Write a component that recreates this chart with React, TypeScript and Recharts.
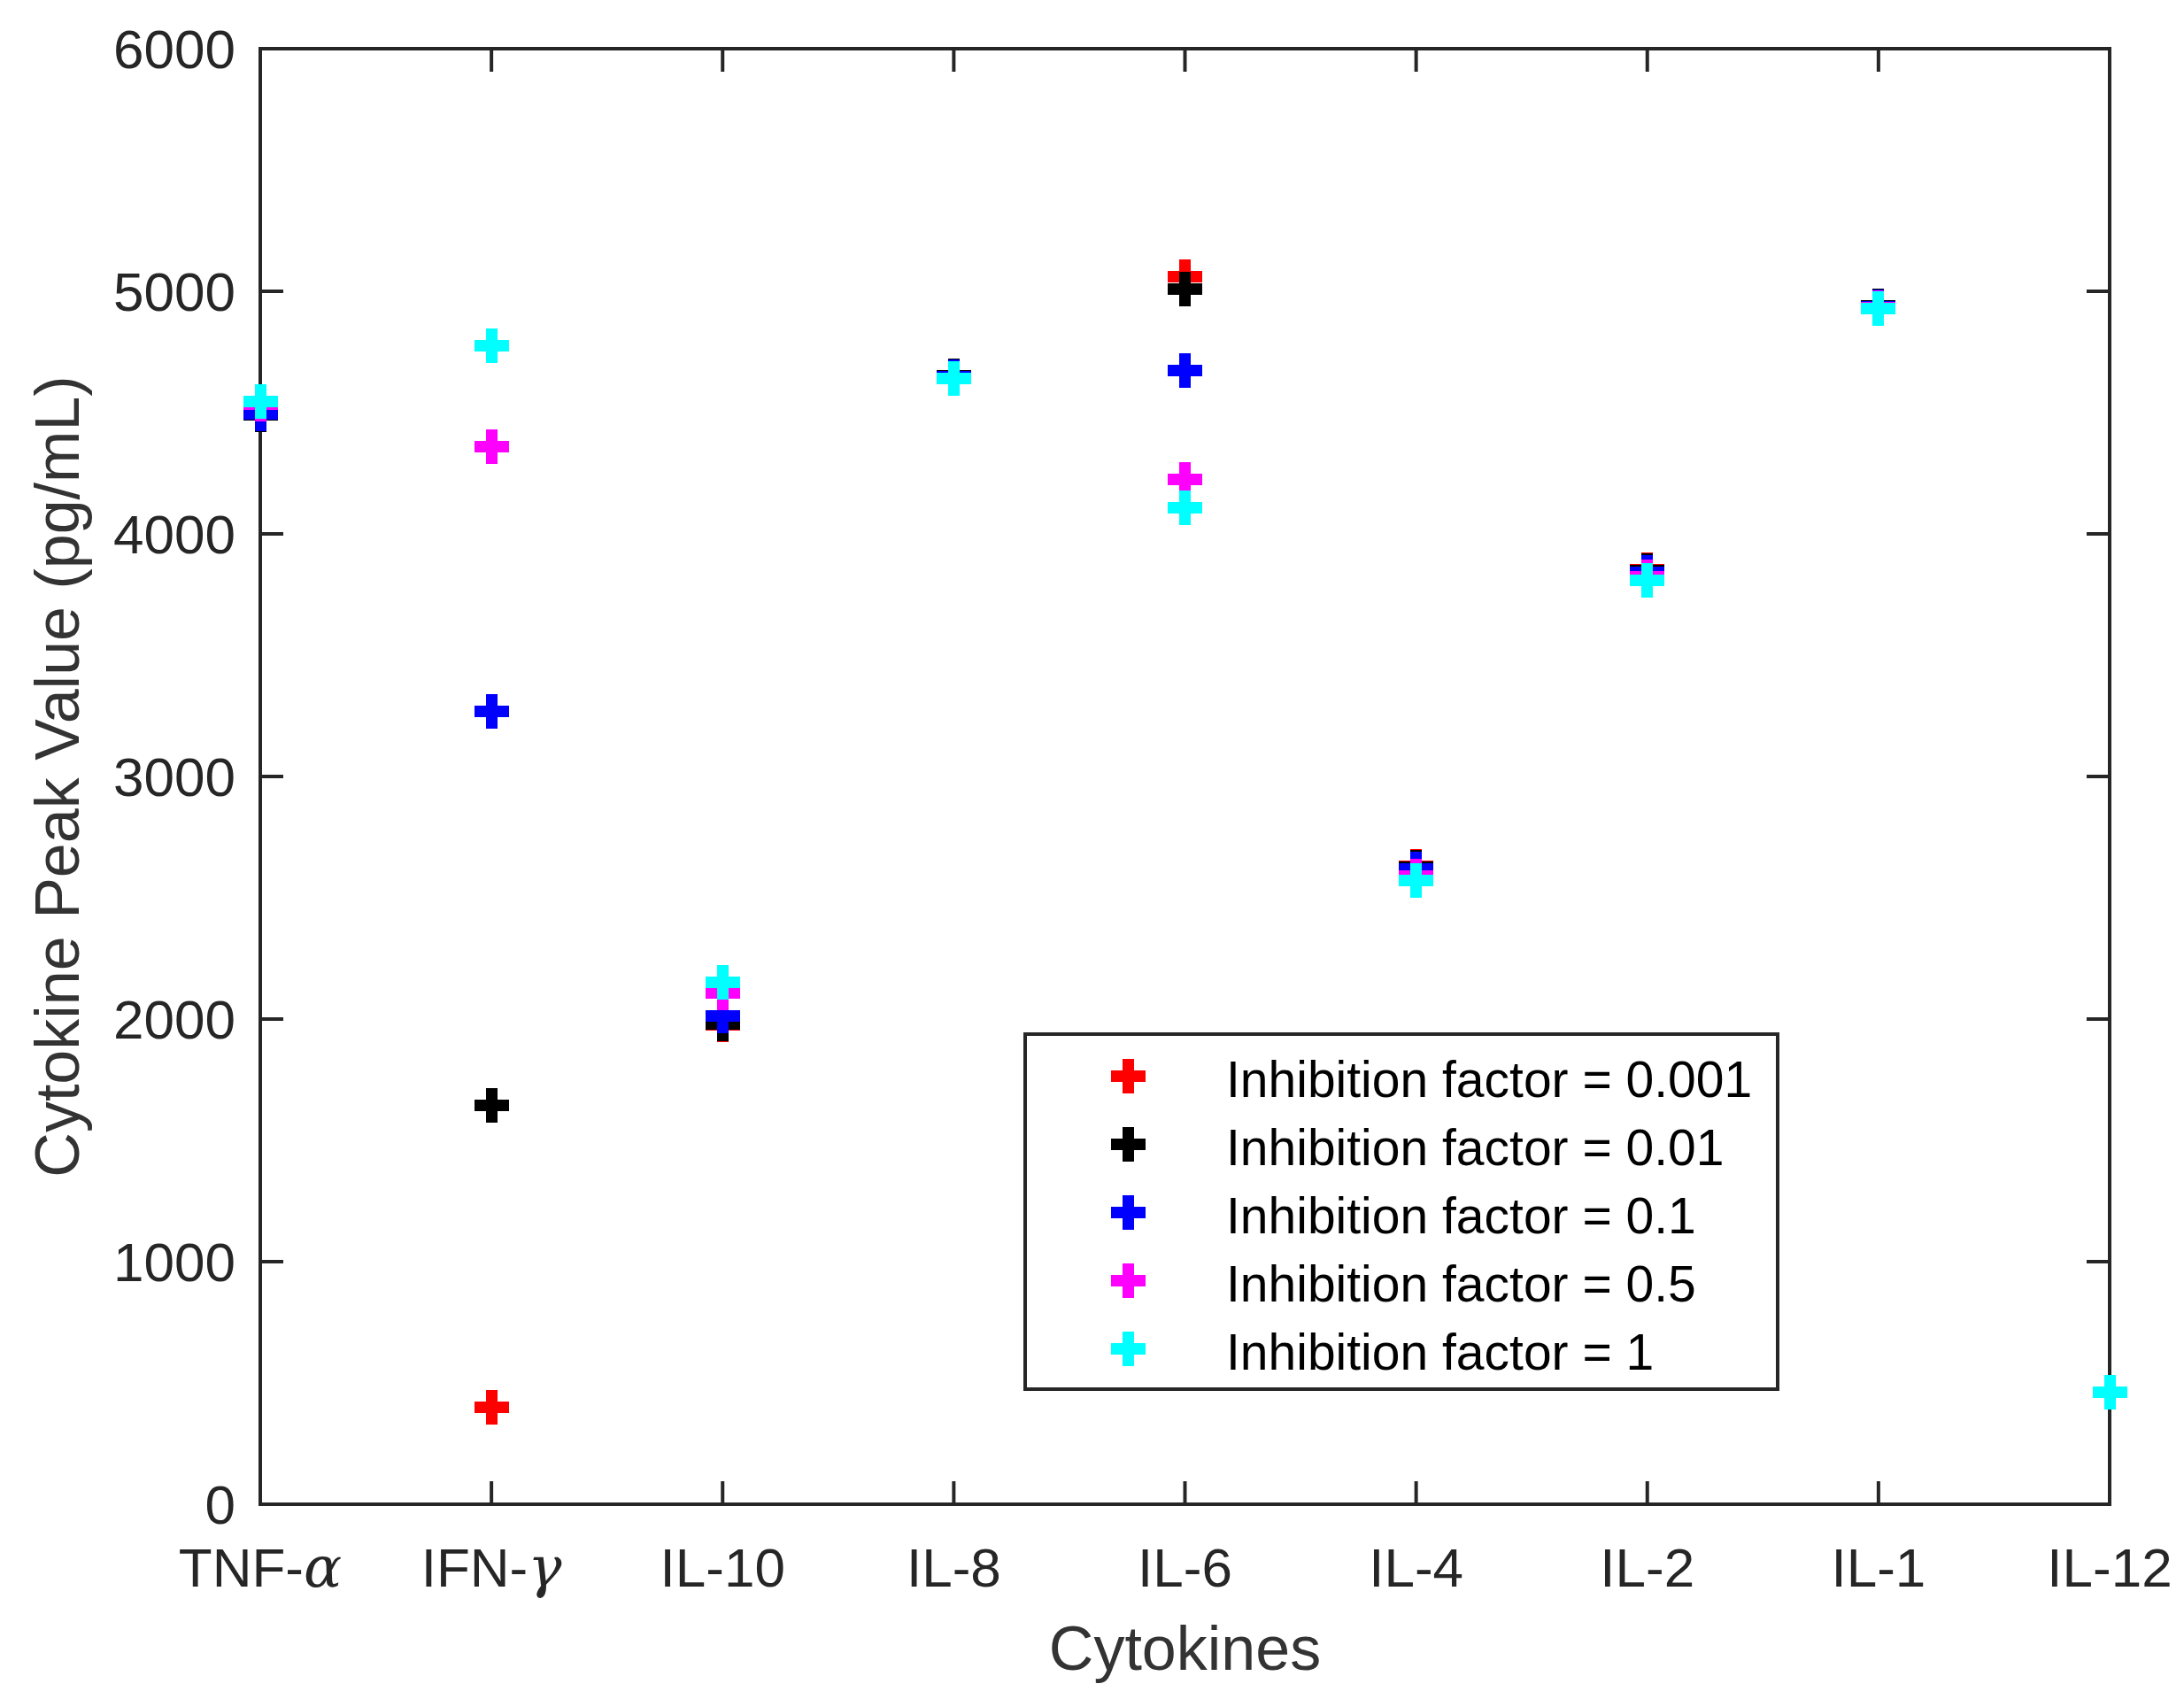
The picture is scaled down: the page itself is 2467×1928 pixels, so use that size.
import React from 'react';
import { ScatterChart, Scatter, XAxis, YAxis, Legend } from 'recharts';

// ---------- data ----------
const categories = ['TNF-α', 'IFN-γ', 'IL-10', 'IL-8', 'IL-6', 'IL-4', 'IL-2', 'IL-1', 'IL-12'];
const categoryPositions = [1, 2, 3, 4, 5, 6, 7, 8, 9];
const yTicks = [0, 1000, 2000, 3000, 4000, 5000, 6000];

const seriesNames = [
  'Inhibition factor = 0.001',
  'Inhibition factor = 0.01',
  'Inhibition factor = 0.1',
  'Inhibition factor = 0.5',
  'Inhibition factor = 1',
];
const seriesColors = ['#FF0000', '#000000', '#0000FF', '#FF00FF', '#00FFFF'];

const factor0001 = [4490, 400, 1976, 4652, 5062, 2630, 3851, 4940, 462];
const factor001 = [4490, 1645, 1980, 4652, 5009, 2626, 3850, 4940, 462];
const factor01 = [4495, 3270, 2014, 4648, 4674, 2618, 3842, 4935, 463];
const factor05 = [4536, 4360, 2107, 4640, 4226, 2591, 3824, 4932, 462];
const factor1 = [4544, 4775, 2153, 4640, 4106, 2572, 3808, 4930, 461];

const seriesValues = [factor0001, factor001, factor01, factor05, factor1];

const xLabel = 'Cytokines';
const yLabel = 'Cytokine Peak Value (pg/mL)';

// ---------- layout ----------
const W = 2467;
const H = 1928;
const PLOT_LEFT = 294;
const PLOT_RIGHT = 2383;
const PLOT_TOP = 55;
const PLOT_BOTTOM = 1699;
const Y_AXIS_W = 220;
const X_AXIS_H = 160;

const AXIS_COLOR = '#262626';
const SANS = "'Liberation Sans', Arial, Helvetica, sans-serif";
const SERIF = "'DejaVu Serif', 'Liberation Serif', 'Times New Roman', serif";

const plusPath = (cx: number, cy: number) => {
  const a = 6.5;
  const b = 19.5;
  return `M${cx - a},${cy - b}H${cx + a}V${cy - a}H${cx + b}V${cy + a}H${cx + a}V${cy + b}H${cx - a}V${cy + a}H${cx - b}V${cy - a}H${cx - a}Z`;
};

const PlusShape = (props: any) => {
  const { cx, cy, fill } = props;
  if (cx == null || cy == null) return null;
  return <path d={plusPath(cx, cy)} fill={fill} shapeRendering="crispEdges" />;
};

const NoShape = () => <g />;
const EmptyTick = () => <g />;

const XTick = (props: any) => {
  const { x, y, payload } = props;
  const label = categories[Math.round(payload.value) - 1] ?? '';
  const parts = label.split(/([α-ω])/);
  return (
    <text x={x} y={y + 93} textAnchor="middle" fontFamily={SANS} fontSize={62} fill={AXIS_COLOR}>
      {parts.map((p: string, i: number) =>
        /^[α-ω]$/.test(p) ? (
          <tspan key={i} fontFamily={SERIF} fontStyle="italic" fontSize={64}>
            {p}
          </tspan>
        ) : (
          <tspan key={i}>{p}</tspan>
        )
      )}
    </text>
  );
};

const YTick = (props: any) => {
  const { x, y, payload } = props;
  return (
    <text x={x - 28} y={y} dy="0.36em" textAnchor="end" fontFamily={SANS} fontSize={62} fill={AXIS_COLOR}>
      {payload.value}
    </text>
  );
};

const renderXLabel = (props: any) => {
  const vb = props.viewBox || {};
  return (
    <text x={vb.x + vb.width / 2} y={vb.y + 187} textAnchor="middle" fontFamily={SANS} fontSize={70} fill="#333333">
      {xLabel}
    </text>
  );
};

const renderYLabel = (props: any) => {
  const vb = props.viewBox || {};
  const cx = vb.x + vb.width - 205;
  const cy = vb.y + vb.height / 2;
  return (
    <text
      x={cx}
      y={cy}
      transform={`rotate(-90, ${cx}, ${cy})`}
      textAnchor="middle"
      fontFamily={SANS}
      fontSize={70}
      fill="#333333"
    >
      {yLabel}
    </text>
  );
};

const renderLegend = (props: any) => {
  const payload = (props.payload ?? []).filter((e: any) => seriesNames.includes(e.value));
  return (
    <svg width={856} height={406} style={{ display: 'block' }}>
      <rect x={2} y={2} width={850} height={401} fill="#ffffff" stroke={AXIS_COLOR} strokeWidth={4} />
      {payload.map((entry: any, i: number) => {
        const cy = 49 + i * 77;
        return (
          <g key={i}>
            <path d={plusPath(118, cy)} fill={entry.color} shapeRendering="crispEdges" />
            <text x={229} y={cy + 3} dy="0.36em" fontFamily={SANS} fontSize={57} fill="#000000">
              {entry.value}
            </text>
          </g>
        );
      })}
    </svg>
  );
};

const lineStyle = { stroke: AXIS_COLOR, strokeWidth: 4, strokeLinecap: 'square' as const };

export default function App() {
  const seriesData = seriesValues.map((vals) =>
    categoryPositions.map((pos, i) => ({ x: pos, y: vals[i] }))
  );
  // data used only to anchor the helper (box/tick) axes to the same ranges
  const helperData = seriesData[seriesData.length - 1];

  return (
    <div style={{ position: 'absolute', left: 0, top: 0, width: W, height: H, background: '#ffffff' }}>
      <ScatterChart
        width={W}
        height={H}
        margin={{
          top: PLOT_TOP,
          right: W - PLOT_RIGHT,
          bottom: H - PLOT_BOTTOM - X_AXIS_H,
          left: PLOT_LEFT - Y_AXIS_W,
        }}
      >
        {/* inward ticks bottom */}
        <XAxis
          xAxisId="xb"
          type="number"
          dataKey="x"
          orientation="bottom"
          mirror
          domain={[1, 9]}
          ticks={categoryPositions}
          tick={<EmptyTick />}
          tickSize={24}
          tickLine={lineStyle}
          axisLine={false}
          interval={0}
        />
        {/* top box edge */}
        <XAxis
          xAxisId="xt"
          type="number"
          dataKey="x"
          orientation="top"
          mirror
          domain={[1, 9]}
          ticks={categoryPositions}
          tick={<EmptyTick />}
          tickSize={24}
          tickLine={lineStyle}
          axisLine={lineStyle}
          interval={0}
        />
        {/* inward ticks left */}
        <YAxis
          yAxisId="yl"
          type="number"
          dataKey="y"
          orientation="left"
          mirror
          domain={[0, 6000]}
          ticks={yTicks}
          tick={<EmptyTick />}
          tickSize={24}
          tickLine={lineStyle}
          axisLine={false}
          interval={0}
        />
        {/* right box edge */}
        <YAxis
          yAxisId="yr"
          type="number"
          dataKey="y"
          orientation="right"
          mirror
          domain={[0, 6000]}
          ticks={yTicks}
          tick={<EmptyTick />}
          tickSize={24}
          tickLine={lineStyle}
          axisLine={lineStyle}
          interval={0}
        />
        {/* main bottom axis: labels */}
        <XAxis
          xAxisId="x"
          type="number"
          dataKey="x"
          domain={[1, 9]}
          ticks={categoryPositions}
          height={X_AXIS_H}
          tickSize={0}
          tickMargin={0}
          tickLine={false}
          axisLine={lineStyle}
          tick={<XTick />}
          interval={0}
          label={renderXLabel}
        />
        {/* main left axis: labels */}
        <YAxis
          yAxisId="y"
          type="number"
          dataKey="y"
          domain={[0, 6000]}
          ticks={yTicks}
          width={Y_AXIS_W}
          tickSize={0}
          tickMargin={0}
          tickLine={false}
          axisLine={lineStyle}
          tick={<YTick />}
          interval={0}
          label={renderYLabel}
        />

        {/* invisible anchors for helper axes */}
        <Scatter
          name="helper-a"
          data={helperData}
          xAxisId="xb"
          yAxisId="yl"
          fill="none"
          shape={<NoShape />}
          legendType="none"
          isAnimationActive={false}
        />
        <Scatter
          name="helper-b"
          data={helperData}
          xAxisId="xt"
          yAxisId="yr"
          fill="none"
          shape={<NoShape />}
          legendType="none"
          isAnimationActive={false}
        />

        {seriesData.map((data, i) => (
          <Scatter
            key={seriesNames[i]}
            name={seriesNames[i]}
            data={data}
            xAxisId="x"
            yAxisId="y"
            fill={seriesColors[i]}
            shape={<PlusShape />}
            isAnimationActive={false}
          />
        ))}

        <Legend
          layout="vertical"
          align="center"
          verticalAlign="middle"
          content={renderLegend}
          wrapperStyle={{ position: 'absolute', left: 1156, top: 1166, width: 856, height: 406 }}
        />
      </ScatterChart>
    </div>
  );
}
